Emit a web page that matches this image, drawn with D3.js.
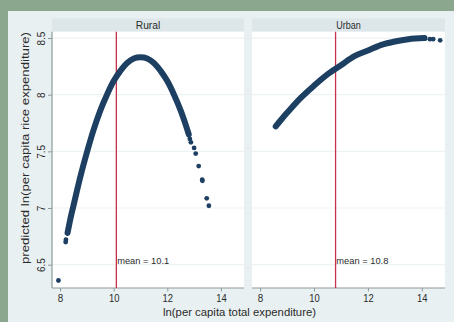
<!DOCTYPE html>
<html>
<head>
<meta charset="utf-8">
<script src="https://cdn.jsdelivr.net/npm/d3@7"></script>
<style>
  html, body { margin: 0; padding: 0; background: #8ba88e; }
  svg { display: block; font-family: "Liberation Sans", Arial, sans-serif; }
</style>
</head>
<body>
<svg id="chart" width="454" height="322"></svg>
<script>
// Panels (by area) and the mean of ln(per capita total expenditure) in each
const panelNames = ["Rural", "Urban"];
const panelMeans = [10.1, 10.8];

// Axis ticks
const xTicks = [8, 10, 12, 14];
const yTicks = [6.5, 7, 7.5, 8, 8.5];

// Rural: dense run of predicted values, then the isolated observations
const ruralCurveX = [8.28, 8.4, 8.5, 8.75, 9, 9.25, 9.5, 9.75, 10, 10.25, 10.5, 10.75, 11, 11.25, 11.5, 11.75, 12, 12.25, 12.5, 12.65, 12.8];
const ruralCurveY = [6.78, 6.92, 7.02, 7.27, 7.49, 7.69, 7.86, 8.00, 8.12, 8.21, 8.28, 8.32, 8.33, 8.32, 8.28, 8.21, 8.12, 8.00, 7.86, 7.76, 7.65];
const ruralDotsX = [7.94, 8.21, 8.22, 12.84, 12.88, 13.0, 13.06, 13.17, 13.30, 13.31, 13.47, 13.55];
const ruralDotsY = [6.36, 6.70, 6.72, 7.61, 7.58, 7.53, 7.48, 7.37, 7.25, 7.24, 7.085, 7.02];

// Urban
const urbanCurveX = [8.58, 8.75, 9, 9.5, 10, 10.5, 11, 11.5, 12, 12.5, 13, 13.5, 14.1];
const urbanCurveY = [7.72, 7.77, 7.84, 7.97, 8.08, 8.18, 8.26, 8.34, 8.39, 8.44, 8.47, 8.49, 8.50];
const urbanDotsX = [14.3, 14.42, 14.68];
const urbanDotsY = [8.49, 8.49, 8.48];

const panelData = [
  { name: panelNames[0], mean: panelMeans[0], cx: ruralCurveX, cy: ruralCurveY, dx: ruralDotsX, dy: ruralDotsY },
  { name: panelNames[1], mean: panelMeans[1], cx: urbanCurveX, cy: urbanCurveY, dx: urbanDotsX, dy: urbanDotsY }
];

const svg = d3.select("#chart");
const W = 454, H = 322;

// Colours
const outerGreen = "#8ba88e";
const graphBg = "#e9f0f1";
const stripBg = "#dde6e9";
const markColor = "#1c3f62";
const meanColor = "#c8314c";
const gridColor = "#edf2f3";
const axisColor = "#8d9a9b";
const textColor = "#2b2b2b";

svg.append("rect").attr("width", W).attr("height", H).attr("fill", outerGreen);
svg.append("rect").attr("x", 8).attr("y", 11).attr("width", W - 8).attr("height", H - 11).attr("fill", graphBg);

const plotTop = 31.7, plotBottom = 288;
const panelX = [[52, 244], [252, 445]];

const y = d3.scaleLinear().domain([6.294, 8.556]).range([plotBottom, plotTop]);

panelData.forEach((p, i) => {
  const [x0, x1] = panelX[i];
  const x = d3.scaleLinear().domain([7.70, 14.86]).range([x0, x1]);
  const g = svg.append("g");

  // strip title
  g.append("rect").attr("x", x0).attr("y", 18.3).attr("width", x1 - x0).attr("height", plotTop - 18.3).attr("fill", stripBg);
  g.append("text").attr("x", (x0 + x1) / 2).attr("y", 28.5)
    .attr("text-anchor", "middle").attr("font-size", 10).attr("fill", textColor)
    .attr("textLength", 24.5).attr("lengthAdjust", "spacingAndGlyphs")
    .text(p.name);

  // plot region
  g.append("rect").attr("x", x0).attr("y", plotTop).attr("width", x1 - x0).attr("height", plotBottom - plotTop).attr("fill", "#ffffff");

  // horizontal grid
  g.selectAll(".grid").data(yTicks).enter().append("line")
    .attr("x1", x0).attr("x2", x1)
    .attr("y1", d => y(d)).attr("y2", d => y(d))
    .attr("stroke", gridColor).attr("stroke-width", 1.2);

  // x axis
  const xAxis = d3.axisBottom(x).tickValues(xTicks).tickSize(3.5).tickPadding(3).tickFormat(d3.format("d"));
  const ax = g.append("g").attr("transform", `translate(0,${plotBottom})`).call(xAxis);
  ax.select(".domain").attr("stroke", axisColor).attr("stroke-width", 1.2).attr("d", `M${x0},0H${x1}`);
  ax.selectAll(".tick line").attr("stroke", axisColor);
  ax.selectAll(".tick text").attr("fill", textColor).attr("font-size", 10)
    .attr("font-family", "Liberation Sans, Arial, sans-serif")
    .attr("textLength", d => d >= 10 ? 10.5 : 5.5).attr("lengthAdjust", "spacingAndGlyphs");

  // mean reference line
  const mx = x(p.mean);
  g.append("line").attr("x1", mx).attr("x2", mx).attr("y1", plotTop).attr("y2", plotBottom)
    .attr("stroke", meanColor).attr("stroke-width", 1.3);
  g.append("text").attr("x", mx + 0.8).attr("y", 263.5)
    .attr("font-size", 9.5).attr("fill", textColor)
    .attr("textLength", 52).attr("lengthAdjust", "spacingAndGlyphs")
    .text(`mean = ${p.mean}`);

  // dense run of predicted values
  const pts = p.cx.map((v, k) => [v, p.cy[k]]);
  g.append("path").datum(pts)
    .attr("d", d3.line().x(d => x(d[0])).y(d => y(d[1])).curve(d3.curveCatmullRom.alpha(0.5)))
    .attr("fill", "none").attr("stroke", markColor).attr("stroke-width", 6)
    .attr("stroke-linecap", "round").attr("stroke-linejoin", "round");

  // isolated observations
  const dots = p.dx.map((v, k) => [v, p.dy[k]]);
  g.selectAll(".dot").data(dots).enter().append("circle")
    .attr("cx", d => x(d[0])).attr("cy", d => y(d[1])).attr("r", 2.4)
    .attr("fill", markColor);

  // y axis on the first panel only
  if (i === 0) {
    const yAxis = d3.axisLeft(y).tickValues(yTicks).tickSize(4).tickFormat(d => d3.format("")(d));
    const ay = g.append("g").attr("transform", `translate(${x0},0)`).call(yAxis);
    ay.select(".domain").attr("stroke", axisColor).attr("stroke-width", 1.2).attr("d", `M0,${plotTop}V${plotBottom}`);
    ay.selectAll(".tick line").attr("stroke", axisColor);
    ay.selectAll(".tick text").attr("fill", textColor).attr("font-size", 10)
      .attr("font-family", "Liberation Sans, Arial, sans-serif")
      .attr("text-anchor", "middle")
      .attr("transform", "rotate(-90)")
      .attr("x", 0).attr("y", 0).attr("dy", 0)
      .each(function () {
        d3.select(this).attr("transform", "translate(-7.5,0) rotate(-90)");
      });
  }
});

// axis titles
svg.append("text").attr("x", 239.5).attr("y", 316)
  .attr("text-anchor", "middle").attr("font-size", 11).attr("fill", textColor)
  .attr("textLength", 153).attr("lengthAdjust", "spacingAndGlyphs")
  .text("ln(per capita total expenditure)");

svg.append("text").attr("transform", "translate(29,148) rotate(-90)")
  .attr("text-anchor", "middle").attr("font-size", 11).attr("fill", textColor)
  .attr("textLength", 232).attr("lengthAdjust", "spacingAndGlyphs")
  .text("predicted ln(per capita rice expenditure)");
</script>
</body>
</html>
